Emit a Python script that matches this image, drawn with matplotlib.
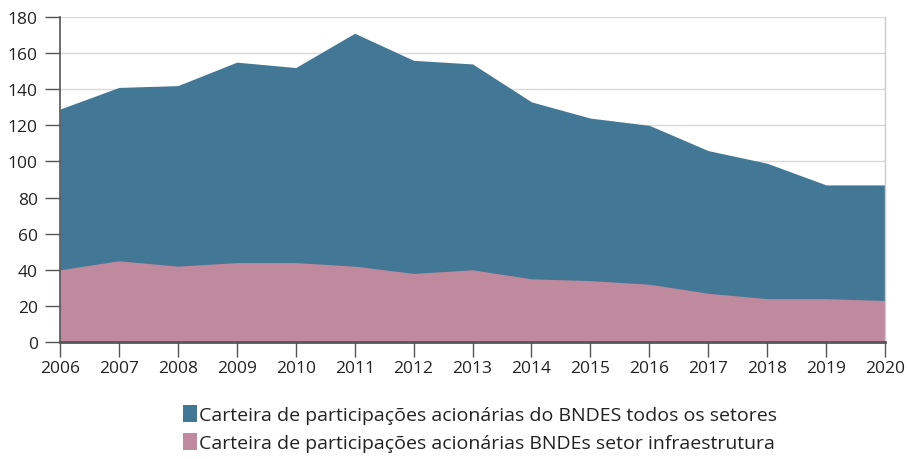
import matplotlib
matplotlib.use("Agg")
import matplotlib.pyplot as plt
from matplotlib.patches import Patch

plt.rcParams['font.family'] = ['Open Sans', 'DejaVu Sans']

# data (R$ bilhões)
anos = [2006, 2007, 2008, 2009, 2010, 2011, 2012, 2013,
        2014, 2015, 2016, 2017, 2018, 2019, 2020]
todos_setores = [129, 141, 142, 155, 152, 171, 156, 154,
                 133, 124, 120, 106, 99, 87, 87]
infraestrutura = [40, 45, 42, 44, 44, 42, 38, 40,
                  35, 34, 32, 27, 24, 24, 23]

cor_azul = '#427895'
cor_rosa = '#bf899e'

fig = plt.figure(figsize=(9.09, 4.60), dpi=100)
ax = fig.add_axes([60 / 909, 1 - 343 / 460, 825 / 909, 325 / 460])

ax.fill_between(anos, 0, todos_setores, color=cor_azul, linewidth=0, zorder=2)
ax.fill_between(anos, 0, infraestrutura, color=cor_rosa, linewidth=0, zorder=3)

ax.set_xlim(2006, 2020)
ax.set_ylim(0, 180)
ax.set_xticks(anos)
ax.set_yticks(range(0, 181, 20))
ax.grid(axis='y', color='#d9d9d9', linewidth=1, zorder=0)
ax.set_axisbelow(True)

ax.spines['top'].set_visible(False)
ax.spines['right'].set_color('#cccccc')
ax.spines['right'].set_linewidth(1)
ax.spines['left'].set_color('#555555')
ax.spines['left'].set_linewidth(1.2)
ax.spines['bottom'].set_color('#555555')
ax.spines['bottom'].set_linewidth(2)
for s in ax.spines.values():
    s.set_zorder(4)

ax.tick_params(axis='y', length=11, width=1, color='#555555', labelsize=12.5,
               labelcolor='#222222', pad=5)
ax.tick_params(axis='x', length=11, width=1, color='#555555', labelsize=12.5,
               labelcolor='#222222', pad=2)

# title mostly cut off at the top in the reference
fig.text(0.549, 1 + 3.5 / 460, '(Em R$ bilhões a preços de 2020)', ha='center', va='baseline',
         fontsize=13, fontweight='bold', color='#222222')

handles = [Patch(facecolor=cor_azul, label='Carteira de participações acionárias do BNDES todos os setores'),
           Patch(facecolor=cor_rosa, label='Carteira de participações acionárias BNDEs setor infraestrutura')]
fig.legend(handles=handles, loc='center', bbox_to_anchor=(0.528, 0.066), ncol=1,
           frameon=False, fontsize=14, handlelength=0.75, handleheight=0.95,
           handletextpad=0.1, labelspacing=0.45, labelcolor='#222222')

fig.savefig('out.png', dpi=100)
